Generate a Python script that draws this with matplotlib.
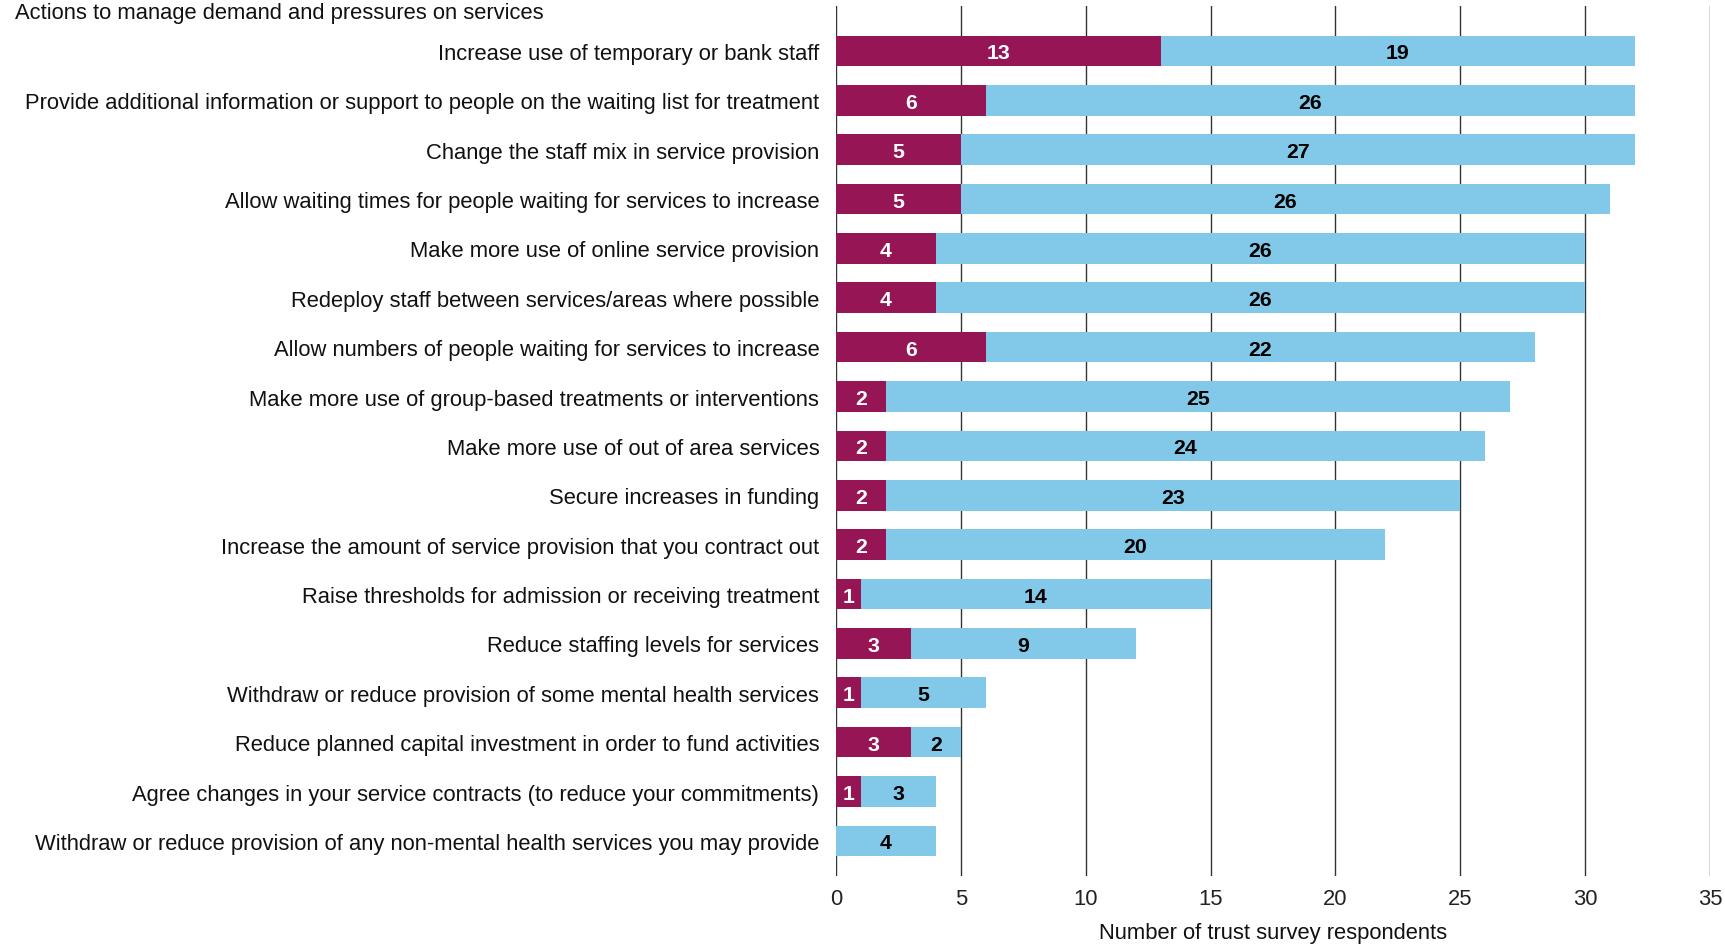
import matplotlib
matplotlib.use("Agg")
import matplotlib.pyplot as plt
import numpy as np

plt.rcParams['font.family'] = ['Liberation Sans', 'DejaVu Sans']

categories = [
    "Increase use of temporary or bank staff",
    "Provide additional information or support to people on the waiting list for treatment",
    "Change the staff mix in service provision",
    "Allow waiting times for people waiting for services to increase",
    "Make more use of online service provision",
    "Redeploy staff between services/areas where possible",
    "Allow numbers of people waiting for services to increase",
    "Make more use of group-based treatments or interventions",
    "Make more use of out of area services",
    "Secure increases in funding",
    "Increase the amount of service provision that you contract out",
    "Raise thresholds for admission or receiving treatment",
    "Reduce staffing levels for services",
    "Withdraw or reduce provision of some mental health services",
    "Reduce planned capital investment in order to fund activities",
    "Agree changes in your service contracts (to reduce your commitments)",
    "Withdraw or reduce provision of any non-mental health services you may provide",
]
series_a = [13, 6, 5, 5, 4, 4, 6, 2, 2, 2, 2, 1, 3, 1, 3, 1, 0]
series_b = [19, 26, 27, 26, 26, 26, 22, 25, 24, 23, 20, 14, 9, 5, 2, 3, 4]
xticks = [0, 5, 10, 15, 20, 25, 30, 35]

col_a = "#961554"
col_b = "#82c8e8"

fig = plt.figure(figsize=(17.25, 9.45), dpi=100)
ax = fig.add_axes([0.4846, 0.072, 0.5067, 0.9206])

y = np.arange(len(categories))
h = 0.62
for x in xticks:
    ax.axvline(x, color="#333333", lw=1.0, zorder=0)
ax.barh(y, series_a, height=h, color=col_a, zorder=2)
ax.barh(y, series_b, left=series_a, height=h, color=col_b, zorder=2)

fs = 15.8
for i in range(len(categories)):
    a, b = series_a[i], series_b[i]
    if a > 0:
        ax.text(a / 2, y[i], str(a), ha="center", va="center_baseline", color="white",
                fontsize=fs - 0.5, fontweight="bold", zorder=3)
    if b > 0:
        ax.text(a + b / 2, y[i], str(b), ha="center", va="center_baseline", color="black",
                fontsize=fs - 0.5, fontweight="bold", zorder=3)

ax.set_xlim(0, 35)
ax.set_ylim(16.71, -0.91)
ax.set_yticks(y)
ax.set_yticklabels(categories, fontsize=fs, color="#111111")
ax.set_xticks(xticks)
ax.set_xticklabels([str(t) for t in xticks], fontsize=fs, color="#222222")
ax.tick_params(axis="both", length=0)
ax.tick_params(axis="y", pad=12)
ax.tick_params(axis="x", pad=9)
for s in ["top", "right", "bottom", "left"]:
    ax.spines[s].set_visible(False)

fig.text(1273 / 1725, 1 - 934 / 945, "Number of trust survey respondents",
         fontsize=fs, va="center", ha="center", color="#111111")

fig.text(15 / 1725, 1 - 14 / 945, "Actions to manage demand and pressures on services",
         fontsize=fs, va="center", ha="left", color="#111111")

fig.savefig("out.png", dpi=100)
